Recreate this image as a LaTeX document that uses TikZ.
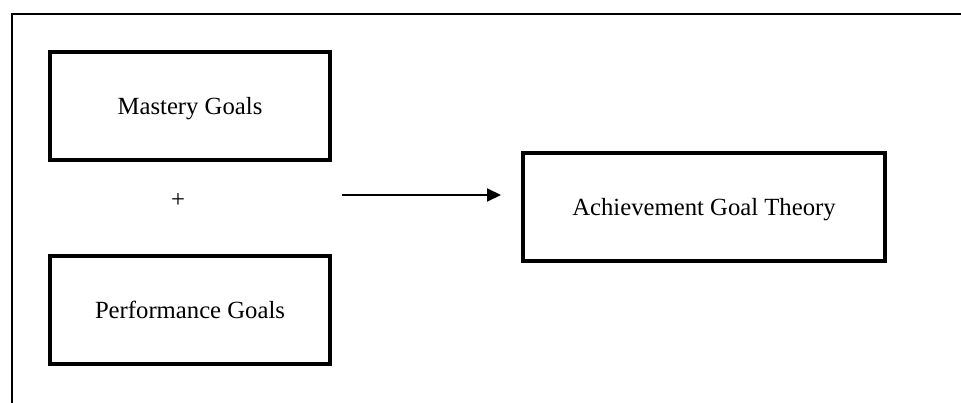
\documentclass[tikz,border=0pt]{standalone}
\usepackage{fontspec}
\setmainfont{Liberation Serif}
\usetikzlibrary{arrows.meta}
\begin{document}
\begin{tikzpicture}[x=1pt,y=-1pt,
  goalbox/.style={draw,line width=4pt,minimum width=280pt,minimum height=108pt,inner sep=0pt,text height=22pt,text depth=4pt,font=\fontsize{24.7}{29}\selectfont},
  every node/.style={font=\fontsize{24.7}{29}\selectfont}]
\useasboundingbox (0,0) rectangle (961,403);
\fill[white] (0,0) rectangle (961,403);
\draw[line width=2pt] (12,403) -- (12,14) -- (961,14);
\node[goalbox] (mastery) at (190,106) {Mastery Goals};
\node[goalbox] (perf) at (190,310) {Performance Goals};
\node (plus) at (178,201) {+};
\node[goalbox,minimum width=362pt] (agt) at (704,207) {Achievement Goal Theory};
\coordinate (astart) at (342,195);
\draw[line width=2pt,-{Triangle[length=14pt,width=13pt]}] (astart) -- (501,195);
\end{tikzpicture}
\end{document}
